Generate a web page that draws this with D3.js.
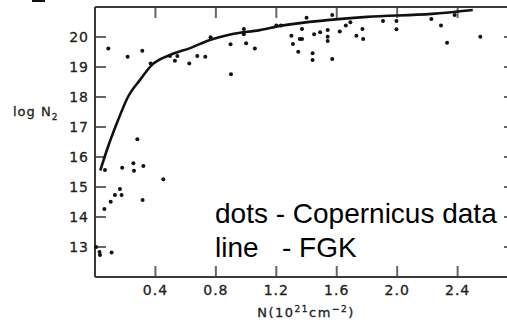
<!DOCTYPE html>
<html><head><meta charset="utf-8">
<script src="https://cdn.jsdelivr.net/npm/d3@7"></script>
<style>html,body{margin:0;padding:0;background:#fff;overflow:hidden}</style>
</head><body>
<svg id="c" width="507" height="323"></svg>
<script>
// Copernicus data (dots): N (10^21 cm^-2) and log N2
const copN = [0.088,0.216,0.313,0.368,0.496,0.545,0.529,0.624,0.677,0.73,0.765,0.897,0.9,
  0.985,0.985,1.0,1.058,1.2,1.23,1.30,1.31,1.345,1.355,1.37,1.37,1.40,1.44,1.44,1.45,1.49,1.54,1.54,1.54,1.57,1.57,1.62,1.66,1.69,1.73,1.77,1.775,
  1.906,1.995,1.995,2.226,2.29,2.33,2.38,2.55,
  0.28,0.066,0.18,0.254,0.258,0.32,0.452,0.165,0.132,0.176,0.315,0.104,0.062,0.007,0.03,0.033,0.11];
const copLog = [19.62,19.34,19.54,19.12,19.37,19.37,19.21,19.12,19.37,19.34,19.99,19.76,18.76,
  20.27,20.09,19.79,19.62,20.38,20.38,20.04,19.77,19.51,19.93,19.93,20.27,20.64,19.46,19.23,20.09,20.16,20.23,20.01,19.87,19.27,20.73,20.18,20.38,20.49,20.04,20.27,19.93,
  20.53,20.53,20.26,20.60,20.38,19.81,20.73,20.01,
  16.59,15.57,15.64,15.79,15.54,15.70,15.26,14.93,14.73,14.73,14.57,14.51,14.27,13.0,12.83,12.73,12.82];
// FGK model (line)
const fgkN = [0.035,0.08,0.145,0.218,0.298,0.377,0.496,0.63,0.76,0.91,1.09,1.225,1.556,1.8,2.23,2.5];
const fgkLog = [15.55,16.25,17.13,18.0,18.57,19.07,19.4,19.63,19.9,20.1,20.23,20.37,20.57,20.67,20.77,20.9];
const xTicks = [0.4,0.8,1.2,1.6,2.0,2.4];
const xTickLabels = ["0.4","0.8","1.2","1.6","2.0","2.4"];
const yTicks = [13,14,15,16,17,18,19,20];

const svg = d3.select("#c");
const x = d3.scaleLinear().domain([0,2.74]).range([95,509]);
const y = d3.scaleLinear().domain([12,21]).range([277,7]);
const font = "'DejaVu Sans', sans-serif";
const axCol = "#3a3a3a";

// stray mark at top-left (cut-off caption)
svg.append("rect").attr("x",32).attr("y",0).attr("width",13).attr("height",2).attr("fill","#111");

// ticks
const gT = svg.append("g").attr("stroke","#666").attr("stroke-width",2);
yTicks.forEach(v=>{
  gT.append("line").attr("x1",x(0)).attr("x2",x(0)+11).attr("y1",y(v)).attr("y2",y(v));
  gT.append("line").attr("x1",x(2.74)).attr("x2",x(2.74)-5).attr("y1",y(v)).attr("y2",y(v));
});
xTicks.forEach(v=>{
  gT.append("line").attr("x1",x(v)).attr("x2",x(v)).attr("y1",y(12)).attr("y2",y(12)-11);
  gT.append("line").attr("x1",x(v)).attr("x2",x(v)).attr("y1",y(21)).attr("y2",y(21)+11);
});

// frame
const gF = svg.append("g").attr("stroke",axCol).attr("stroke-width",2).attr("fill","none");
gF.append("line").attr("x1",x(0)).attr("x2",x(0)).attr("y1",y(21)).attr("y2",y(12));
gF.append("line").attr("x1",x(0)).attr("x2",x(2.74)).attr("y1",y(12)).attr("y2",y(12));
gF.append("line").attr("x1",x(0)).attr("x2",x(2.74)).attr("y1",y(21)).attr("y2",y(21));

// tick labels
yTicks.forEach(v=>{
  svg.append("text").attr("x",89).attr("y",y(v)+5).attr("text-anchor","end")
    .attr("font-family",font).attr("font-size",14).attr("letter-spacing",1).attr("fill","#222")
    .attr("stroke","#222").attr("stroke-width",0.3).text(v);
});
xTicks.forEach((v,i)=>{
  svg.append("text").attr("x",x(v)).attr("y",295).attr("text-anchor","middle")
    .attr("font-family",font).attr("font-size",14).attr("letter-spacing",1).attr("fill","#222")
    .attr("stroke","#222").attr("stroke-width",0.3).text(xTickLabels[i]);
});

// axis titles
const yl = svg.append("text").attr("x",13).attr("y",116).attr("font-family",font).attr("font-size",13)
  .attr("letter-spacing",1).attr("fill","#222").attr("stroke","#222").attr("stroke-width",0.3);
yl.append("tspan").text("log N");
yl.append("tspan").attr("dy",4).attr("font-size",9).text("2");

const xl = svg.append("text").attr("x",306).attr("y",317).attr("text-anchor","middle").attr("font-family",font)
  .attr("font-size",13).attr("letter-spacing",1.5).attr("fill","#222").attr("stroke","#222").attr("stroke-width",0.3);
xl.append("tspan").text("N(10");
xl.append("tspan").attr("dy",-5).attr("font-size",9).text("21");
xl.append("tspan").attr("dy",5).text("cm");
xl.append("tspan").attr("dy",-5).attr("font-size",9).text("−2");
xl.append("tspan").attr("dy",5).text(")");

// FGK curve
const line = d3.line().x(d=>x(d[0])).y(d=>y(d[1])).curve(d3.curveMonotoneX);
svg.append("path").datum(fgkN.map((v,i)=>[v,fgkLog[i]])).attr("d",line)
  .attr("fill","none").attr("stroke","#111").attr("stroke-width",2.6);

// Copernicus dots
svg.append("g").selectAll("circle").data(copN.map((v,i)=>[v,copLog[i]])).join("circle")
  .attr("cx",d=>x(d[0])).attr("cy",d=>y(d[1])).attr("r",2).attr("fill","#111");

// legend text
const lg = svg.append("g").attr("font-family","'Liberation Sans', Arial, sans-serif").attr("font-size",28).attr("fill","#000");
lg.append("text").attr("x",215).attr("y",223).text("dots - Copernicus data");
lg.append("text").attr("x",215).attr("y",257).attr("xml:space","preserve").style("white-space","pre").text("line   - FGK");
</script>
</body></html>
